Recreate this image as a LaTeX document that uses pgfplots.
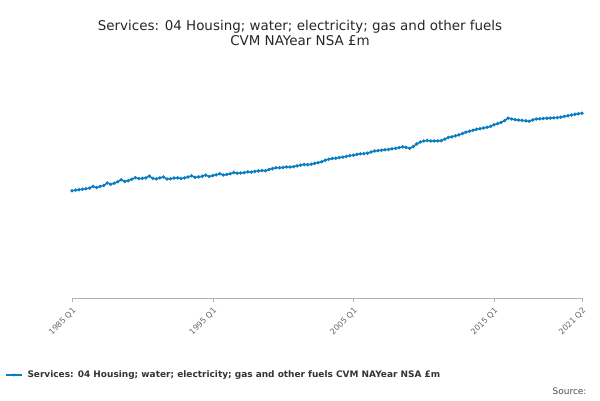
\documentclass[border=0pt]{standalone}
\usepackage{pgfplots}
\pgfplotsset{compat=1.18}
\usepackage{fontspec}
\setmainfont{DejaVu Sans}
\definecolor{ln}{HTML}{0A7CC1}
\definecolor{tk}{HTML}{666666}
\begin{document}
\begin{tikzpicture}[x=1bp,y=1bp]
\useasboundingbox (0,0) rectangle (600,400);
\node[align=center,font=\fontsize{13.5}{16}\selectfont,text=black!85] at (300,367) {Services: 04 Housing; water; electricity; gas and other fuels\\CVM NAYear NSA £m};
\begin{axis}[at={(72bp,102bp)},anchor=south west,scale only axis,width=510bp,height=231bp,
 xmin=0,xmax=145,ymin=0,ymax=100000,
 xtick={0,40,80,120,145},xticklabels={1985 Q1,1995 Q1,2005 Q1,2015 Q1,2021 Q2},
 xticklabel style={rotate=45,anchor=north east,font=\fontsize{8}{9}\selectfont,text=tk},
 ytick={0,25000,50000,75000,100000},
 yticklabel style={font=\fontsize{8}{9}\selectfont,text=tk},
 /pgf/number format/assume math mode=true,
 /pgf/number format/1000 sep={\,},
 scaled y ticks=false,
 ymajorgrids,grid style={black!12},
 axis x line*=bottom,axis y line=none,
 x axis line style={black!30},
 xtick style={black!30},major tick length=4bp,tick align=outside,
 clip=false]
\addplot[ln,line width=1.4pt,mark=*,mark size=0.9pt] table[x expr=\coordindex,y index=0]{
y
46400
46700
46900
47100
47300
47600
48300
47800
48300
48700
49800
49200
49700
50300
51200
50400
50800
51400
52100
51700
51800
52000
52800
51800
51600
52000
52400
51500
51600
51900
52000
51700
52000
52400
52900
52200
52400
52700
53200
52600
53000
53300
53800
53200
53500
53800
54300
54000
54100
54300
54600
54500
54800
55000
55200
55100
55600
56000
56400
56400
56500
56700
56700
56900
57200
57500
57800
57700
57900
58300
58600
59000
59600
60100
60400
60500
60800
61000
61300
61600
61800
62200
62400
62500
62700
63200
63600
63800
64000
64200
64300
64600
64800
65100
65400
65200
64800
65600
66700
67500
68000
68200
68000
68000
68000
68100
68800
69500
69800
70200
70600
71200
71800
72200
72600
73000
73300
73600
73900
74300
75000
75500
76000
76800
77900
77500
77200
77000
76900
76700
76500
77100
77500
77600
77700
77800
77900
78000
78100
78300
78600
78900
79200
79500
79800
80000
};
\end{axis}
\draw[ln,line width=1.4pt] (6,25)--(22,25);
\fill[ln] (14,25) circle (1.6);
\node[anchor=west,font=\fontsize{9}{10}\selectfont\bfseries,text=black!80] at (24,25) {Services: 04 Housing; water; electricity; gas and other fuels CVM NAYear NSA £m};
\node[anchor=east,font=\fontsize{9}{10}\selectfont,text=black!70] at (590,9) {Source:};
\end{tikzpicture}
\end{document}
